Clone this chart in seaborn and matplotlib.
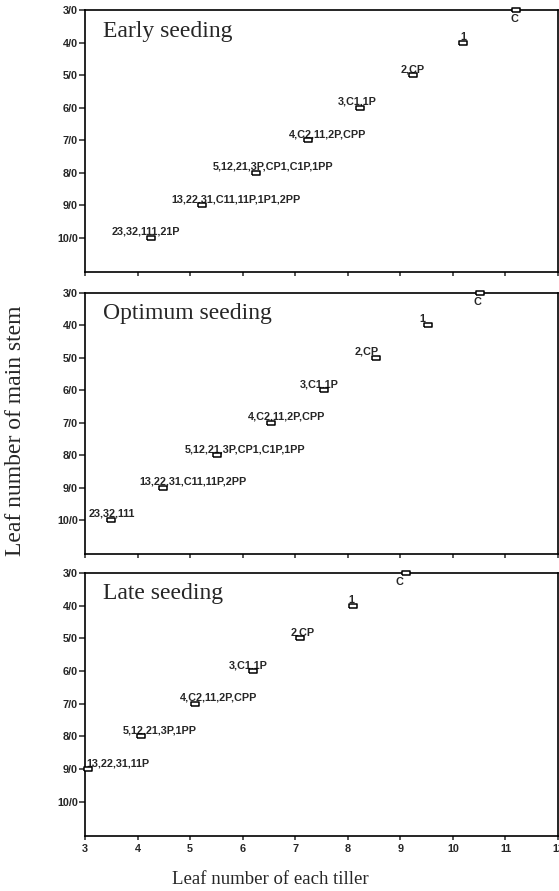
import matplotlib
matplotlib.use("Agg")
import matplotlib.pyplot as plt
import seaborn as sns
import pandas as pd

# ---------------- data ----------------
panel_titles = ["Early seeding", "Optimum seeding", "Late seeding"]

early_x = [11.21, 10.2, 9.24, 8.23, 7.24, 6.25, 5.22, 4.25]
early_y = [3, 4, 5, 6, 7, 8, 9, 10]
early_labels = ["C", "1", "2,CP", "3,C1,1P", "4,C2,11,2P,CPP",
                "5,12,21,3P,CP1,C1P,1PP", "13,22,31,C11,11P,1P1,2PP",
                "23,32,111,21P"]

optimum_x = [10.51, 9.52, 8.53, 7.54, 6.54, 5.51, 4.48, 3.49]
optimum_y = [3, 4, 5, 6, 7, 8, 9, 10]
optimum_labels = ["C", "1", "2,CP", "3,C1,1P", "4,C2,11,2P,CPP",
                  "5,12,21,3P,CP1,C1P,1PP", "13,22,31,C11,11P,2PP",
                  "23,32,111"]

late_x = [9.1, 8.1, 7.09, 6.2, 5.09, 4.06, 3.06]
late_y = [3, 4, 5, 6, 7, 8, 9]
late_labels = ["C", "1", "2,CP", "3,C1,1P", "4,C2,11,2P,CPP",
               "5,12,21,3P,1PP", "13,22,31,11P"]

y_ticks = [3, 4, 5, 6, 7, 8, 9, 10]
y_tick_labels = ["3/0", "4/0", "5/0", "6/0", "7/0", "8/0", "9/0", "10/0"]
x_ticks = [3, 4, 5, 6, 7, 8, 9, 10, 11, 12]
x_tick_labels = ["3", "4", "5", "6", "7", "8", "9", "10", "11", "12"]

# ---------------- styling / layout (not data) ----------------
# label x-offsets in pixels relative to marker (center of label)
early_dx = [-2, 0, 0, -3, 20, 17, 34, -5]
optimum_dx = [-2, -5, -9, -4, 16, 28, 30, 1]
late_dx = [-6, -2, 3, -5, 24, 19, 30]

sns.set_style("white")
plt.rcParams["font.family"] = ["Liberation Sans", "DejaVu Sans"]

W, H = 559, 891
fig = plt.figure(figsize=(W / 100, H / 100), dpi=100)

left_px, right_px = 85, 558
panel_px = [(10, 272), (293, 554), (573, 836)]

datasets = [
    (early_x, early_y, early_labels, early_dx),
    (optimum_x, optimum_y, optimum_labels, optimum_dx),
    (late_x, late_y, late_labels, late_dx),
]

rect_marker = [(-1.5, -1.0), (1.5, -1.0), (1.5, 1.0), (-1.5, 1.0), (-1.5, -1.0)]
serif = ["Liberation Serif", "DejaVu Serif"]

for i, ((xs, ys, labs, dxs), (top, bot)) in enumerate(zip(datasets, panel_px)):
    ax = fig.add_axes([left_px / W, 1 - bot / H, (right_px - left_px) / W, (bot - top) / H])
    df = pd.DataFrame({"x": xs, "y": ys, "label": labs})
    sns.scatterplot(data=df, x="x", y="y", ax=ax, marker=rect_marker, s=26,
                    facecolor="white", edgecolor="black", linewidth=1.1,
                    clip_on=False, zorder=5)
    ax.set_xlim(3, 12)
    ax.set_ylim(11.05, 3)
    ax.set_xlabel("")
    ax.set_ylabel("")
    for sp in ax.spines.values():
        sp.set_visible(True)
        sp.set_color("black")
        sp.set_linewidth(1.2)
    ax.set_yticks(y_ticks)
    ax.set_yticklabels(y_tick_labels, fontsize=7.8, fontweight="bold")
    ax.set_xticks(x_ticks)
    if i == 2:
        ax.set_xticklabels(x_tick_labels, fontsize=7.8, fontweight="bold")
    else:
        ax.set_xticklabels([])
    ax.tick_params(axis="y", direction="out", length=4, width=1.1, pad=1, left=True)
    ax.tick_params(axis="x", direction="out", length=3, width=1.1, pad=3, bottom=True)

    for x, y, lab, dx in zip(df["x"], df["y"], df["label"], dxs):
        if lab == "C":
            ax.annotate(lab, (x, y), xytext=(dx, -4), textcoords="offset pixels",
                        ha="center", va="top", fontsize=7.8, fontweight="bold")
        else:
            ax.annotate(lab, (x, y), xytext=(dx, 1), textcoords="offset pixels",
                        ha="center", va="bottom", fontsize=7.8, fontweight="bold")

    ax.annotate(panel_titles[i], (0, 1), xycoords="axes fraction",
                xytext=(18, -21), textcoords="offset pixels",
                ha="left", va="center", fontsize=17, family=serif)

fig.text(270 / W, 1 - 879 / H, "Leaf number of each tiller", ha="center", va="center",
         fontsize=13.5, family=serif)
fig.text(16 / W, 1 - 431 / H, "Leaf number of main stem", ha="center", va="center",
         rotation=90, fontsize=17, family=serif)

fig.savefig("out.png", dpi=100)
